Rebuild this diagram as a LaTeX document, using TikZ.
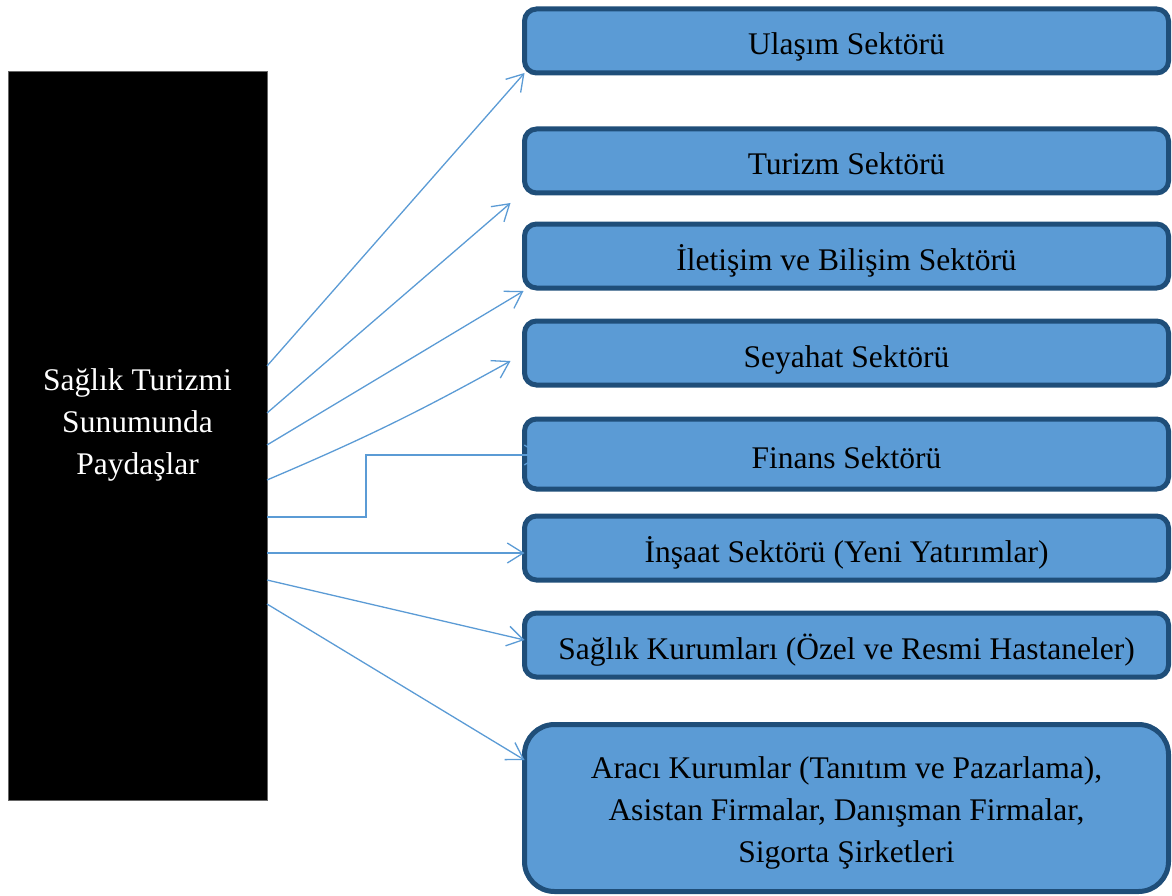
\documentclass[tikz,border=0pt]{standalone}
\usepackage{fontspec}
\setmainfont{Liberation Serif}
\usetikzlibrary{arrows.meta,calc}
\definecolor{boxfill}{HTML}{5B9BD5}
\definecolor{boxline}{HTML}{1F4E79}
\definecolor{linkcol}{HTML}{5B9BD5}
\begin{document}
\begin{tikzpicture}[x=1pt,y=-1pt,
  every node/.style={font=\fontsize{31.5}{42}\selectfont, inner sep=0pt, outer sep=0pt},
  sectorbox/.style={draw=boxline, line width=5pt, fill=boxfill, rounded corners=12pt,
    minimum width=644pt, minimum height=64pt, text=black, align=center},
  sector/.style={sectorbox, text height=35pt, text depth=7pt},
  stakebox/.style={draw=black!60, line width=1pt, fill=black,
    minimum width=259pt, minimum height=728pt},
  link/.style={draw=linkcol, line width=1.3pt,
    -{Straight Barb[length=16pt,width=20pt,line width=1.3pt]}}
]
\useasboundingbox (0,0) rectangle (1172,896);

% left block with its title
\node[stakebox] (stake) at (137.5,436) {};
\node[text=white, align=center] (stakeText) at (137.5,425)
  {Sağlık Turizmi\\Sunumunda\\Paydaşlar};

% sector boxes
\node[sector] (b1) at (846.5,41) {Ulaşım Sektörü};
\node[sector] (b2) at (846.5,161) {Turizm Sektörü};
\node[sector] (b3) at (846.5,256) {İletişim ve Bilişim Sektörü};
\node[sector] (b4) at (846.5,353) {Seyahat Sektörü};
\node[sector, minimum height=70pt] (b5) at (846.5,454) {Finans Sektörü};
\node[sector] (b6) at (846.5,548) {İnşaat Sektörü (Yeni Yatırımlar)};
\node[sector] (b7) at (846.5,645) {Sağlık Kurumları (Özel ve Resmi Hastaneler)};
\node[sectorbox, minimum height=167pt, rounded corners=30pt] (b8) at (846.5,808)
  {\rule{0pt}{32pt}Aracı Kurumlar (Tanıtım ve Pazarlama),\\Asistan Firmalar, Danışman Firmalar,\\Sigorta Şirketleri};

% connectors from the left block to each sector
\draw[link] ($(stake.north east)+(0,294)$) -- (b1.south west);
\draw[link] ($(stake.north east)+(0,341)$) -- ($(b2.south west)+(-14,10)$);
\draw[link] ($(stake.north east)+(0,373)$) -- ($(b3.south west)+(-1,3)$);
\draw[link] ($(stake.north east)+(0,408)$) to[bend right=3] ($(b4.west)+(-14,8)$);
\draw[link] ($(stake.north east)+(0,445)$) -- ++(99,0) |- ($(b5.west)+(17,1)$);
\draw[link] ($(stake.north east)+(0,481)$) -- ($(b6.west)+(0,5)$);
\draw[link] ($(stake.north east)+(0,508)$) -- ($(b7.west)+(0,-5)$);
\draw[link] ($(stake.north east)+(0,532)$) -- ($(b8.west)+(0,-48)$);
\end{tikzpicture}
\end{document}
